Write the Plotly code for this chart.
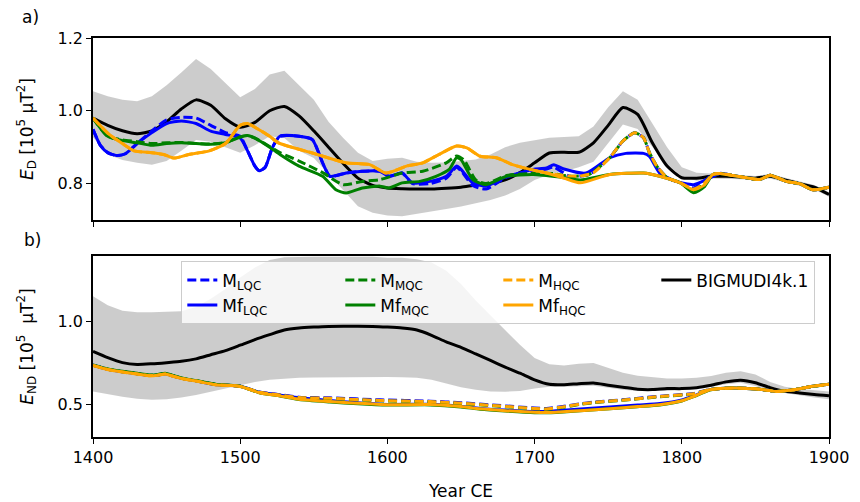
import plotly.graph_objects as go
from plotly.subplots import make_subplots

# ---------------- common decadal grid for the BIGMUDI4k.1 reference ----------------
grid_years = list(range(1400, 1901, 10))

# Panel a) dipole energy E_D  [10^5 uT^2]
bm_d = [0.98, 0.96, 0.945, 0.937, 0.945, 0.97, 1.005, 1.03, 1.015, 0.978,
        0.955, 0.968, 1.0, 1.012, 0.986, 0.945, 0.9, 0.855, 0.815, 0.795,
        0.788, 0.786, 0.785, 0.785, 0.787, 0.79, 0.796, 0.80, 0.81, 0.83,
        0.857, 0.884, 0.886, 0.886, 0.912, 0.96, 1.009, 0.99, 0.912, 0.848,
        0.816, 0.815, 0.82, 0.82, 0.818, 0.815, 0.82, 0.81, 0.80, 0.79, 0.77]
bm_d_hi = [1.054, 1.04, 1.03, 1.026, 1.04, 1.07, 1.105, 1.142, 1.115, 1.075,
           1.037, 1.06, 1.10, 1.11, 1.07, 1.03, 0.97, 0.925, 0.885, 0.862,
           0.868, 0.871, 0.86, 0.857, 0.858, 0.862, 0.866, 0.88, 0.90, 0.912,
           0.92, 0.926, 0.928, 0.93, 0.957, 1.01, 1.054, 1.03, 0.965, 0.90,
           0.845, 0.83, 0.828, 0.826, 0.824, 0.821, 0.826, 0.816, 0.806, 0.796, 0.776]
bm_d_lo = [0.927, 0.88, 0.865, 0.857, 0.852, 0.862, 0.89, 0.92, 0.915, 0.90,
           0.885, 0.905, 0.93, 0.925, 0.89, 0.87, 0.825, 0.78, 0.738, 0.72,
           0.712, 0.71, 0.716, 0.724, 0.73, 0.737, 0.745, 0.755, 0.767, 0.785,
           0.81, 0.825, 0.833, 0.845, 0.86, 0.91, 0.962, 0.95, 0.90, 0.852,
           0.82, 0.808, 0.814, 0.814, 0.812, 0.809, 0.814, 0.804, 0.794, 0.784, 0.764]

# Panel b) non-dipole energy E_ND  [10^5 uT^2]
bm_nd = [0.82, 0.782, 0.752, 0.741, 0.745, 0.752, 0.76, 0.775, 0.80, 0.825,
         0.858, 0.892, 0.922, 0.95, 0.962, 0.968, 0.972, 0.973, 0.973, 0.972,
         0.968, 0.962, 0.95, 0.918, 0.878, 0.845, 0.805, 0.765, 0.725, 0.688,
         0.647, 0.62, 0.618, 0.624, 0.628, 0.615, 0.603, 0.59, 0.588, 0.594,
         0.594, 0.60, 0.615, 0.635, 0.645, 0.63, 0.60, 0.578, 0.568, 0.558, 0.55]
bm_nd_hi = [1.156, 1.10, 1.068, 1.058, 1.058, 1.06, 1.065, 1.09, 1.14, 1.20,
            1.27, 1.33, 1.375, 1.392, 1.395, 1.395, 1.395, 1.395, 1.395, 1.395,
            1.39, 1.39, 1.38, 1.36, 1.31, 1.23, 1.13, 1.04, 0.955, 0.86,
            0.78, 0.742, 0.735, 0.745, 0.75, 0.72, 0.69, 0.672, 0.662, 0.655,
            0.655, 0.66, 0.67, 0.69, 0.70, 0.68, 0.635, 0.605, 0.592, 0.583, 0.577]
bm_nd_lo = [0.577, 0.56, 0.545, 0.532, 0.527, 0.53, 0.54, 0.555, 0.575, 0.598,
            0.618, 0.635, 0.648, 0.655, 0.66, 0.662, 0.663, 0.663, 0.663, 0.664,
            0.665, 0.663, 0.66, 0.648, 0.625, 0.603, 0.587, 0.576, 0.575, 0.58,
            0.595, 0.605, 0.605, 0.61, 0.612, 0.60, 0.587, 0.58, 0.578, 0.58,
            0.585, 0.595, 0.605, 0.62, 0.63, 0.61, 0.585, 0.568, 0.553, 0.54, 0.53]

# ---------------- model curves, panel a) ----------------
tail_years = [1826, 1835, 1844, 1853, 1860, 1871, 1880, 1889, 1900]
tail_d = [0.828, 0.822, 0.816, 0.811, 0.823, 0.806, 0.80, 0.783, 0.79]

mf_lqc_d_years = [1400, 1405, 1410, 1416, 1422, 1430, 1440, 1450, 1460, 1470, 1480, 1490,
                  1500, 1505, 1510, 1513, 1517, 1522, 1527, 1540, 1549, 1556, 1561, 1572,
                  1583, 1595, 1601, 1610, 1617, 1629, 1640, 1647, 1650, 1658, 1667, 1681,
                  1690, 1699, 1708, 1713, 1720, 1735, 1751, 1762, 1774, 1778, 1785, 1796,
                  1808, 1817] + tail_years
mf_lqc_d = [0.949, 0.905, 0.885, 0.877, 0.882, 0.91, 0.94, 0.965, 0.972, 0.965, 0.944, 0.935,
            0.925, 0.89, 0.848, 0.835, 0.845, 0.90, 0.93, 0.93, 0.921, 0.857, 0.82, 0.829,
            0.834, 0.834, 0.82, 0.829, 0.802, 0.806, 0.82, 0.848, 0.839, 0.802, 0.793, 0.82,
            0.829, 0.839, 0.843, 0.852, 0.84, 0.829, 0.871, 0.883, 0.883, 0.875, 0.829, 0.806,
            0.797, 0.811] + tail_d

m_lqc_d_years = [1400, 1405, 1410, 1416, 1422, 1430, 1440, 1450, 1460, 1470, 1480, 1490,
                 1500, 1505, 1510, 1513, 1517, 1522, 1527, 1540, 1549, 1556, 1561, 1572,
                 1583, 1595, 1601, 1610, 1617, 1629, 1640, 1647, 1650, 1658, 1667, 1681,
                 1690, 1699, 1708, 1713, 1724, 1737, 1751, 1760, 1768, 1774, 1778, 1783,
                 1790, 1799, 1808, 1815, 1821] + tail_years
m_lqc_d = [0.949, 0.905, 0.885, 0.877, 0.882, 0.91, 0.945, 0.975, 0.982, 0.98, 0.96, 0.94,
           0.93, 0.89, 0.848, 0.835, 0.845, 0.90, 0.93, 0.93, 0.921, 0.857, 0.82, 0.829,
           0.834, 0.834, 0.82, 0.829, 0.80, 0.80, 0.815, 0.845, 0.835, 0.795, 0.785, 0.818,
           0.826, 0.835, 0.84, 0.845, 0.82, 0.825, 0.871, 0.917, 0.94, 0.926, 0.885, 0.848,
           0.816, 0.802, 0.788, 0.806, 0.825] + tail_d

mf_mqc_d_years = [1400, 1410, 1420, 1430, 1440, 1450, 1460, 1470, 1480, 1490, 1500, 1505,
                  1510, 1520, 1527, 1540, 1556, 1565, 1572, 1583, 1595, 1601, 1610, 1622,
                  1633, 1642, 1647, 1650, 1658, 1667, 1681, 1699, 1717, 1731, 1751, 1774,
                  1785, 1799, 1808, 1815, 1821] + tail_years
mf_mqc_d = [0.98, 0.93, 0.918, 0.912, 0.905, 0.91, 0.912, 0.91, 0.908, 0.912, 0.928, 0.932,
            0.925, 0.90, 0.88, 0.848, 0.82, 0.783, 0.774, 0.788, 0.793, 0.788, 0.802, 0.806,
            0.82, 0.839, 0.871, 0.866, 0.811, 0.797, 0.82, 0.825, 0.818, 0.81, 0.825, 0.829,
            0.82, 0.802, 0.775, 0.79, 0.825] + tail_d

m_mqc_d_years = [1400, 1410, 1420, 1430, 1440, 1450, 1460, 1470, 1480, 1490, 1500, 1505,
                 1510, 1520, 1527, 1540, 1556, 1570, 1583, 1595, 1610, 1624, 1640, 1647,
                 1652, 1660, 1667, 1681, 1699, 1712, 1724, 1737, 1751, 1760, 1768, 1774,
                 1778, 1783, 1790, 1799, 1808, 1815, 1821] + tail_years
m_mqc_d = [0.98, 0.93, 0.92, 0.915, 0.91, 0.912, 0.913, 0.91, 0.909, 0.913, 0.928, 0.932,
           0.925, 0.902, 0.885, 0.862, 0.83, 0.797, 0.806, 0.811, 0.829, 0.834, 0.857, 0.876,
           0.865, 0.81, 0.80, 0.822, 0.828, 0.828, 0.82, 0.825, 0.871, 0.917, 0.94, 0.926,
           0.885, 0.848, 0.816, 0.802, 0.78, 0.80, 0.825] + tail_d

mf_hqc_d_years = [1400, 1411, 1420, 1428, 1440, 1448, 1455, 1465, 1479, 1490, 1500, 1505,
                  1512, 1520, 1526, 1549, 1572, 1588, 1599, 1613, 1624, 1635, 1647, 1654,
                  1663, 1674, 1685, 1697, 1708, 1720, 1731, 1751, 1774, 1785, 1799, 1808,
                  1815, 1821] + tail_years
mf_hqc_d = [0.98, 0.935, 0.91, 0.89, 0.885, 0.88, 0.87, 0.88, 0.89, 0.91, 0.96, 0.965,
            0.95, 0.93, 0.912, 0.884, 0.857, 0.852, 0.829, 0.848, 0.857, 0.88, 0.903, 0.898,
            0.875, 0.871, 0.852, 0.839, 0.829, 0.815, 0.802, 0.825, 0.829, 0.82, 0.802, 0.783,
            0.795, 0.825] + tail_d

m_hqc_d_years = [1400, 1411, 1420, 1428, 1440, 1448, 1455, 1465, 1479, 1490, 1500, 1505,
                 1512, 1520, 1526, 1549, 1572, 1588, 1599, 1613, 1624, 1635, 1647, 1654,
                 1663, 1674, 1685, 1697, 1708, 1720, 1730, 1740, 1751, 1760, 1768, 1774,
                 1778, 1783, 1790, 1799, 1808, 1815, 1821] + tail_years
m_hqc_d = [0.98, 0.935, 0.91, 0.89, 0.885, 0.88, 0.87, 0.88, 0.89, 0.91, 0.96, 0.965,
           0.95, 0.93, 0.912, 0.884, 0.857, 0.852, 0.829, 0.848, 0.857, 0.88, 0.903, 0.898,
           0.875, 0.871, 0.852, 0.839, 0.829, 0.822, 0.82, 0.83, 0.871, 0.917, 0.94, 0.926,
           0.885, 0.848, 0.816, 0.802, 0.785, 0.80, 0.825] + tail_d

# ---------------- model curves, panel b) ----------------
mf_nd_years = [1400, 1410, 1420, 1430, 1438, 1444, 1449, 1455, 1461, 1470, 1483, 1500,
               1513, 1527, 1540, 1561, 1580, 1600, 1629, 1650, 1663, 1680, 1700, 1710,
               1717, 1731, 1751, 1770, 1785, 1800, 1808, 1819, 1830, 1841, 1853, 1864,
               1875, 1887, 1900]
mf_hqc_nd = [0.735, 0.71, 0.695, 0.683, 0.673, 0.676, 0.683, 0.668, 0.654, 0.64, 0.618, 0.607,
             0.569, 0.55, 0.53, 0.516, 0.505, 0.496, 0.497, 0.485, 0.471, 0.46, 0.45, 0.449,
             0.452, 0.46, 0.472, 0.485, 0.496, 0.52, 0.546, 0.587, 0.597, 0.597, 0.59, 0.577,
             0.585, 0.605, 0.62]
mf_mqc_nd = [0.738, 0.714, 0.699, 0.687, 0.677, 0.68, 0.688, 0.672, 0.658, 0.643, 0.621, 0.609,
             0.569, 0.549, 0.528, 0.513, 0.502, 0.494, 0.495, 0.483, 0.469, 0.458, 0.448, 0.447,
             0.45, 0.459, 0.471, 0.484, 0.495, 0.519, 0.545, 0.586, 0.597, 0.597, 0.59, 0.577,
             0.585, 0.605, 0.62]
mf_lqc_nd = [0.736, 0.711, 0.696, 0.684, 0.674, 0.677, 0.685, 0.669, 0.655, 0.641, 0.619, 0.608,
             0.572, 0.556, 0.538, 0.522, 0.508, 0.498, 0.499, 0.487, 0.474, 0.464, 0.455, 0.456,
             0.461, 0.47, 0.482, 0.494, 0.503, 0.525, 0.549, 0.588, 0.597, 0.597, 0.59, 0.577,
             0.585, 0.605, 0.62]

m_nd_years = [1400, 1410, 1420, 1430, 1438, 1444, 1449, 1455, 1461, 1470, 1483, 1500,
              1513, 1527, 1540, 1561, 1595, 1629, 1650, 1674, 1700, 1708, 1719, 1731,
              1740, 1762, 1785, 1808, 1814, 1820, 1830, 1841, 1853, 1864, 1875, 1887, 1900]
m_hqc_nd = [0.735, 0.71, 0.695, 0.683, 0.673, 0.676, 0.683, 0.668, 0.654, 0.64, 0.618, 0.607,
            0.572, 0.555, 0.54, 0.535, 0.522, 0.515, 0.505, 0.49, 0.473, 0.47, 0.483, 0.50,
            0.51, 0.526, 0.546, 0.563, 0.577, 0.59, 0.597, 0.597, 0.59, 0.577, 0.585, 0.605, 0.62]
m_mqc_nd = [0.737, 0.712, 0.697, 0.685, 0.675, 0.678, 0.686, 0.67, 0.656, 0.642, 0.62, 0.608,
            0.571, 0.553, 0.538, 0.533, 0.52, 0.513, 0.503, 0.488, 0.471, 0.468, 0.48, 0.498,
            0.508, 0.525, 0.545, 0.562, 0.576, 0.59, 0.597, 0.597, 0.59, 0.577, 0.585, 0.605, 0.62]
m_lqc_nd = [0.736, 0.711, 0.696, 0.684, 0.674, 0.677, 0.685, 0.669, 0.655, 0.641, 0.619, 0.608,
            0.573, 0.557, 0.542, 0.538, 0.526, 0.518, 0.508, 0.493, 0.476, 0.473, 0.485, 0.502,
            0.512, 0.528, 0.548, 0.564, 0.578, 0.59, 0.597, 0.597, 0.59, 0.577, 0.585, 0.605, 0.62]

# axis ticks
x_ticks = [1400, 1500, 1600, 1700, 1800, 1900]
yticks_d = [0.8, 1.0, 1.2]
yticks_nd = [0.5, 1.0]

BLUE, GREEN, ORANGE = "#0000ff", "#008000", "#ffa500"
BAND = "rgba(128,128,128,0.4)"
FONT = "DejaVu Sans"
DASH = "9px,4px"

fig = make_subplots(rows=2, cols=1, shared_xaxes=False, vertical_spacing=0.09)


def band(row, years, lo, hi):
    fig.add_trace(go.Scatter(x=years, y=lo, mode="lines", line=dict(width=0, color=BAND),
                             showlegend=False, hoverinfo="skip"), row=row, col=1)
    fig.add_trace(go.Scatter(x=years, y=hi, mode="lines", line=dict(width=0, color=BAND),
                             fill="tonexty", fillcolor=BAND, showlegend=False,
                             hoverinfo="skip"), row=row, col=1)


def curve(row, years, vals, color, name, dashed, rank, legend):
    fig.add_trace(go.Scatter(
        x=years, y=vals, mode="lines", name=name,
        line=dict(color=color, width=3, dash=DASH if dashed else "solid",
                  shape="spline", smoothing=0.6),
        showlegend=legend, legendrank=rank), row=row, col=1)


# panel a)
band(1, grid_years, bm_d_lo, bm_d_hi)
curve(1, grid_years, bm_d, "black", "BIGMUDI4k.1", False, 4, False)
curve(1, mf_lqc_d_years, mf_lqc_d, BLUE, "Mf<sub>LQC</sub>", False, 5, False)
curve(1, m_lqc_d_years, m_lqc_d, BLUE, "M<sub>LQC</sub>", True, 1, False)
curve(1, mf_mqc_d_years, mf_mqc_d, GREEN, "Mf<sub>MQC</sub>", False, 6, False)
curve(1, m_mqc_d_years, m_mqc_d, GREEN, "M<sub>MQC</sub>", True, 2, False)
curve(1, mf_hqc_d_years, mf_hqc_d, ORANGE, "Mf<sub>HQC</sub>", False, 7, False)
curve(1, m_hqc_d_years, m_hqc_d, ORANGE, "M<sub>HQC</sub>", True, 3, False)

# panel b)
band(2, grid_years, bm_nd_lo, bm_nd_hi)
curve(2, grid_years, bm_nd, "black", "BIGMUDI4k.1", False, 4, True)
curve(2, mf_nd_years, mf_lqc_nd, BLUE, "Mf<sub>LQC</sub>", False, 5, True)
curve(2, m_nd_years, m_lqc_nd, BLUE, "M<sub>LQC</sub>", True, 1, True)
curve(2, mf_nd_years, mf_mqc_nd, GREEN, "Mf<sub>MQC</sub>", False, 6, True)
curve(2, m_nd_years, m_mqc_nd, GREEN, "M<sub>MQC</sub>", True, 2, True)
curve(2, mf_nd_years, mf_hqc_nd, ORANGE, "Mf<sub>HQC</sub>", False, 7, True)
curve(2, m_nd_years, m_hqc_nd, ORANGE, "M<sub>HQC</sub>", True, 3, True)

axis_common = dict(showline=True, linecolor="black", linewidth=1.5, mirror=True,
                   ticks="outside", ticklen=5, tickwidth=1.2, tickcolor="black",
                   showgrid=False, zeroline=False, automargin=False,
                   tickfont=dict(family=FONT, size=16, color="black"))

fig.update_xaxes(range=[1400, 1900], tickvals=x_ticks, **axis_common)
fig.update_xaxes(showticklabels=False, row=1, col=1)
fig.update_xaxes(title=dict(text="Year CE", font=dict(family=FONT, size=17, color="black"),
                            standoff=19), row=2, col=1)

fig.update_yaxes(range=[0.70, 1.20], tickvals=yticks_d, tickformat=".1f", **axis_common,
                 row=1, col=1)
fig.update_yaxes(range=[0.30, 1.40], tickvals=yticks_nd, tickformat=".1f", **axis_common,
                 row=2, col=1)
fig.update_yaxes(title=dict(text="<i>E</i><sub>D</sub> [10<sup>5</sup> μT<sup>2</sup>]",
                            font=dict(family=FONT, size=17, color="black"), standoff=20),
                 row=1, col=1)
fig.update_yaxes(title=dict(text="<i>E</i><sub>ND</sub> [10<sup>5</sup>  μT<sup>2</sup>]",
                            font=dict(family=FONT, size=17, color="black"), standoff=20),
                 row=2, col=1)

# panel domains
fig.update_layout(
    xaxis=dict(domain=[0, 1]), xaxis2=dict(domain=[0, 1]),
    yaxis=dict(domain=[0.5439, 1.0]), yaxis2=dict(domain=[0.0, 0.4536]),
)

fig.add_annotation(text="a)", xref="paper", yref="paper", x=-0.099, y=1.083,
                   showarrow=False, font=dict(family=FONT, size=17, color="black"))
fig.add_annotation(text="b)", xref="paper", yref="paper", x=-0.096, y=0.494,
                   showarrow=False, font=dict(family=FONT, size=17, color="black"))

fig.update_layout(
    width=860, height=502,
    margin=dict(l=93, r=31, t=38, b=65, autoexpand=False),
    paper_bgcolor="white", plot_bgcolor="white",
    font=dict(family=FONT, size=16, color="black"),
    legend=dict(orientation="h", x=0.12, y=0.44, xanchor="left", yanchor="top",
                bgcolor="rgba(255,255,255,0.8)", bordercolor="#cccccc", borderwidth=1,
                font=dict(family=FONT, size=17, color="black"),
                entrywidth=113, entrywidthmode="pixels", traceorder="normal",
                itemwidth=30),
    showlegend=True,
)

fig.write_html("out.html")
